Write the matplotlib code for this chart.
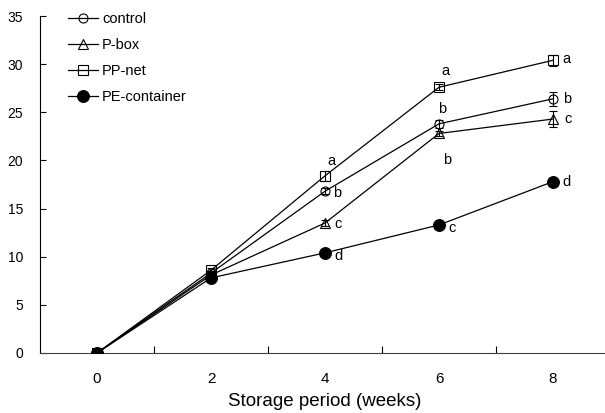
import matplotlib.pyplot as plt
import numpy as np

plt.rcParams['font.family'] = ['Liberation Sans', 'DejaVu Sans']

weeks = ['0', '2', '4', '6', '8']
series = ['control', 'P-box', 'PP-net', 'PE-container']
markers = {'control': 'o', 'P-box': '^', 'PP-net': 's', 'PE-container': 'o'}
filled = {'control': False, 'P-box': False, 'PP-net': False, 'PE-container': True}

values = {
    'control':      [0, 8.3, 16.8, 23.8, 26.4],
    'P-box':        [0, 8.1, 13.5, 22.8, 24.3],
    'PP-net':       [0, 8.6, 18.4, 27.6, 30.4],
    'PE-container': [0, 7.8, 10.4, 13.3, 17.8],
}
errors = {
    'control':      [0, 0.2, 0.3, 0.4, 0.7],
    'P-box':        [0, 0.2, 0.3, 0.3, 0.8],
    'PP-net':       [0, 0.2, 0.5, 0.3, 0.6],
    'PE-container': [0, 0.2, 0.2, 0.2, 0.2],
}
letters = {
    'control':      ['', '', 'b', 'b', 'b'],
    'P-box':        ['', '', 'c', 'b', 'c'],
    'PP-net':       ['', '', 'a', 'a', 'a'],
    'PE-container': ['', '', 'd', 'c', 'd'],
}
# letter placement offsets in points (dx, dy)
letter_pos = {
    'control':      [None, None, (6, -1), (-1, 11), (7, 0)],
    'P-box':        [None, None, (7, -1), (3, -19), (8, 0)],
    'PP-net':       [None, None, (2, 11), (2, 12), (7, 1)],
    'PE-container': [None, None, (7, -2), (7, -2), (7, 0)],
}

fig = plt.figure(figsize=(6.05, 4.13), dpi=100)
ax = fig.add_axes([40 / 605, 60 / 413, 570 / 605, 337 / 413])

x = np.arange(len(weeks))
handles = []
for name in series:
    y = values[name]
    fc = 'black' if filled[name] else 'none'
    ms = 8.5 if filled[name] else 6.5
    ax.errorbar(x, y, yerr=errors[name], fmt='none', ecolor='black',
                elinewidth=0.8, capsize=3, capthick=0.8, zorder=3)
    h, = ax.plot(x, y, color='black', lw=0.9, marker=markers[name], ms=ms,
                 mfc=fc, mec='black', mew=0.8, label=name, zorder=4)
    handles.append(h)
    for i, lab in enumerate(letters[name]):
        if lab:
            dx, dy = letter_pos[name][i]
            ax.annotate(lab, (x[i], y[i]), xytext=(dx, dy), textcoords='offset points',
                        ha='left', va='center', fontsize=10.5)

ax.set_xlim(-0.5, 4.5)
ax.set_ylim(0, 35)
ax.set_yticks(np.arange(0, 36, 5))
ax.set_xticks(x)
ax.set_xticklabels(weeks)
ax.set_xticks(np.arange(0.5, 4.5, 1), minor=True)
ax.tick_params(axis='x', which='major', length=0, pad=14, labelsize=11)
ax.tick_params(axis='x', which='minor', direction='in', length=5, width=0.8)
ax.tick_params(axis='y', direction='in', length=4, width=0.8, pad=12, labelsize=10)
ax.spines['top'].set_visible(False)
ax.spines['right'].set_visible(False)
ax.spines['left'].set_linewidth(0.8)
ax.spines['bottom'].set_linewidth(0.8)
ax.spines['bottom'].set_color('#404040')
ax.set_xlabel('Storage period (weeks)', fontsize=13.5, labelpad=5)

leg = ax.legend(handles=handles, loc='upper left', bbox_to_anchor=(0.049, 1.011),
                frameon=False, fontsize=10.5, handlelength=2.05, handletextpad=0.3,
                labelspacing=0.81, borderaxespad=0, borderpad=0)

fig.savefig('out.png', dpi=100)
